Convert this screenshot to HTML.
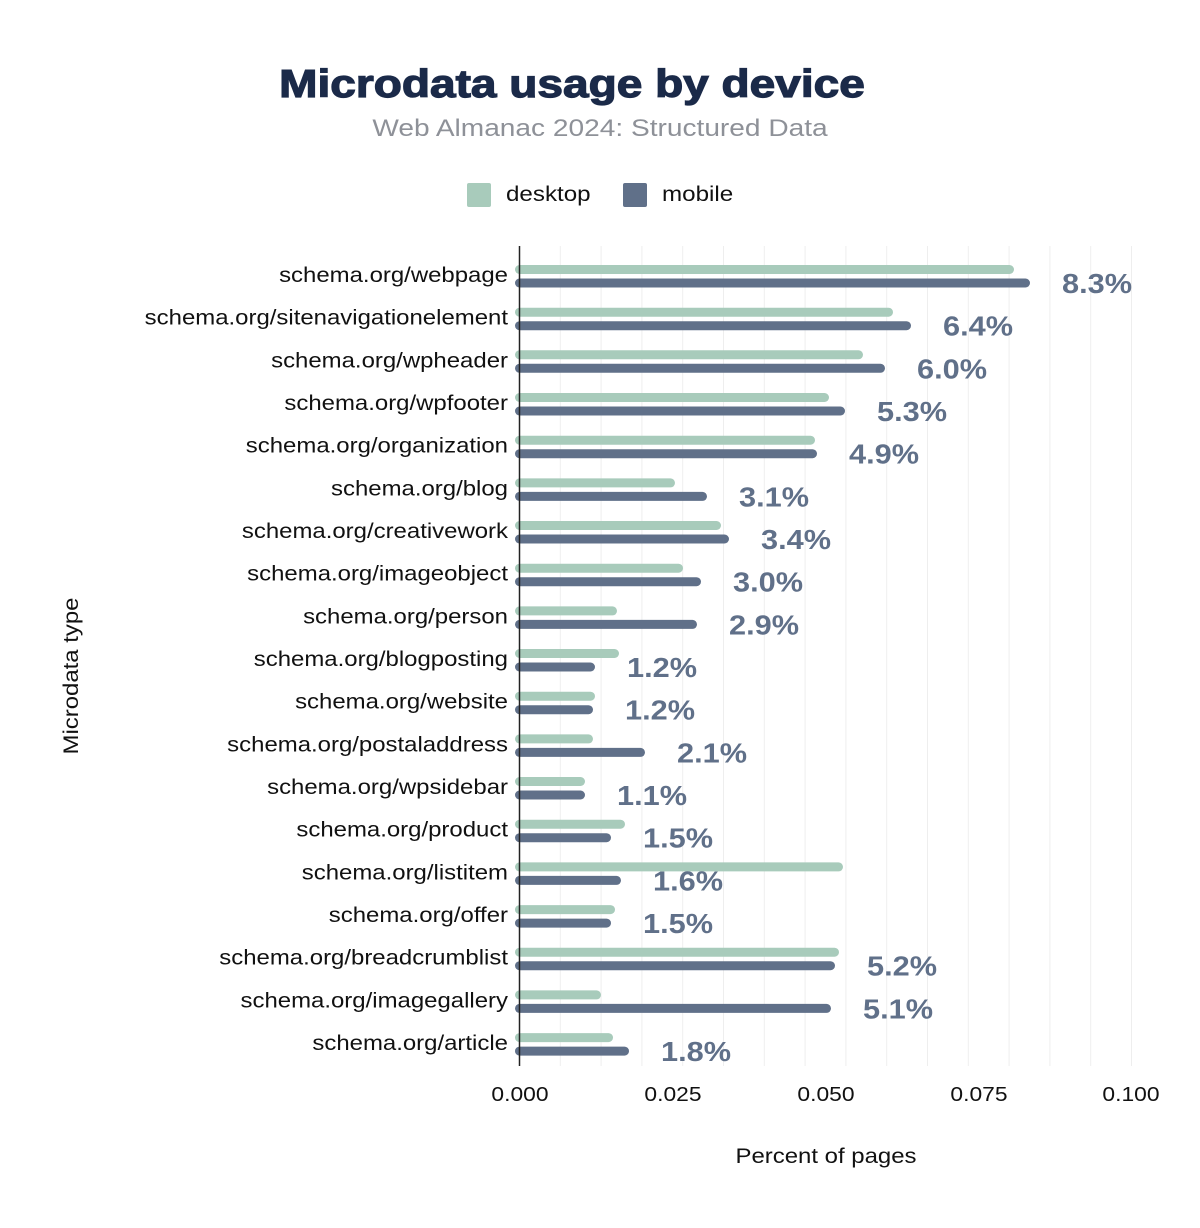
<!DOCTYPE html>
<html><head><meta charset="utf-8"><style>body{margin:0;background:#fff}svg{display:block}</style></head><body>
<svg width="1200" height="1228" viewBox="0 0 1200 1228" xmlns="http://www.w3.org/2000/svg" font-family="Liberation Sans, Arial, sans-serif">
<rect width="1200" height="1228" fill="#fff"/>
<text class="s" data-f="1.18" x="572" y="97" text-anchor="middle" font-size="39" font-weight="bold" fill="#1b2a49" stroke="#1b2a49" stroke-width="1.2">Microdata usage by device</text>
<text class="s" data-f="1.17" x="600" y="136" text-anchor="middle" font-size="24" fill="#8e9198">Web Almanac 2024: Structured Data</text>
<rect x="467" y="183" width="24" height="24" rx="2" fill="#a8cbbb"/>
<text class="s" data-f="1.15" x="506" y="201" font-size="21" fill="#111">desktop</text>
<rect x="623" y="183" width="24" height="24" rx="2" fill="#607089"/>
<text class="s" data-f="1.15" x="662" y="201" font-size="21" fill="#111">mobile</text>
<g stroke="#eeeeee" stroke-width="1" id="grid"></g>
<g id="bars"></g>
<line x1="519.5" y1="246" x2="519.5" y2="1066" stroke="#222" stroke-width="1.5"/>
<g font-size="20" fill="#111" text-anchor="middle">
<text class="s" data-f="1.14" x="520" y="1101">0.000</text><text class="s" data-f="1.14" x="673" y="1101">0.025</text><text class="s" data-f="1.14" x="826" y="1101">0.050</text><text class="s" data-f="1.14" x="979" y="1101">0.075</text><text class="s" data-f="1.14" x="1131" y="1101">0.100</text>
</g>
<text class="s" data-f="1.14" x="826" y="1163" text-anchor="middle" font-size="21" fill="#111">Percent of pages</text>
<text class="s" data-f="1.14" transform="translate(78,676) rotate(-90)" text-anchor="middle" font-size="21" fill="#111">Microdata type</text>
<g id="labels"></g>
</svg>
<script>
var NS="http://www.w3.org/2000/svg";
var g=document.getElementById("grid");
for(var k=1;k<=15;k++){var x=519.5+k*40.8;var l=document.createElementNS(NS,"line");l.setAttribute("x1",x.toFixed(1));l.setAttribute("x2",x.toFixed(1));l.setAttribute("y1",246);l.setAttribute("y2",1066);g.appendChild(l);}
var d=[["webpage",1014,1030,"8.3%"],["sitenavigationelement",893,911,"6.4%"],["wpheader",863,885,"6.0%"],["wpfooter",829,845,"5.3%"],["organization",815,817,"4.9%"],["blog",675,707,"3.1%"],["creativework",721,729,"3.4%"],["imageobject",683,701,"3.0%"],["person",617,697,"2.9%"],["blogposting",619,595,"1.2%"],["website",595,593,"1.2%"],["postaladdress",593,645,"2.1%"],["wpsidebar",585,585,"1.1%"],["product",625,611,"1.5%"],["listitem",843,621,"1.6%"],["offer",615,611,"1.5%"],["breadcrumblist",839,835,"5.2%"],["imagegallery",601,831,"5.1%"],["article",613,629,"1.8%"]];
var b=document.getElementById("bars"),lb=document.getElementById("labels");
d.forEach(function(r,i){var y=275+i*42.67;
function bar(x2,yy,c){var p=document.createElementNS(NS,"rect");p.setAttribute("x",515);p.setAttribute("y",yy.toFixed(1));p.setAttribute("width",x2-515);p.setAttribute("height",9);p.setAttribute("rx",4.5);p.setAttribute("fill",c);b.appendChild(p);}
bar(r[1],y-10,"#a8cbbb");bar(r[2],y+3.5,"#607089");
var t=document.createElementNS(NS,"text");t.setAttribute("x",508);t.setAttribute("y",(y+7).toFixed(1));t.setAttribute("text-anchor","end");t.setAttribute("font-size","21");t.setAttribute("fill","#111");t.setAttribute("class","s");t.setAttribute("data-f","1.14");t.textContent="schema.org/"+r[0];lb.appendChild(t);
var v=document.createElementNS(NS,"text");v.setAttribute("x",r[2]+32);v.setAttribute("y",(y+18).toFixed(1));v.setAttribute("font-size","28");v.setAttribute("font-weight","bold");v.setAttribute("fill","#607089");v.setAttribute("textLength","70");v.setAttribute("lengthAdjust","spacingAndGlyphs");v.textContent=r[3];lb.appendChild(v);
});
document.querySelectorAll("text.s").forEach(function(t){var f=parseFloat(t.getAttribute("data-f"));var w=t.getComputedTextLength();t.setAttribute("textLength",(w*f).toFixed(1));t.setAttribute("lengthAdjust","spacingAndGlyphs");});
</script>
</body></html>
